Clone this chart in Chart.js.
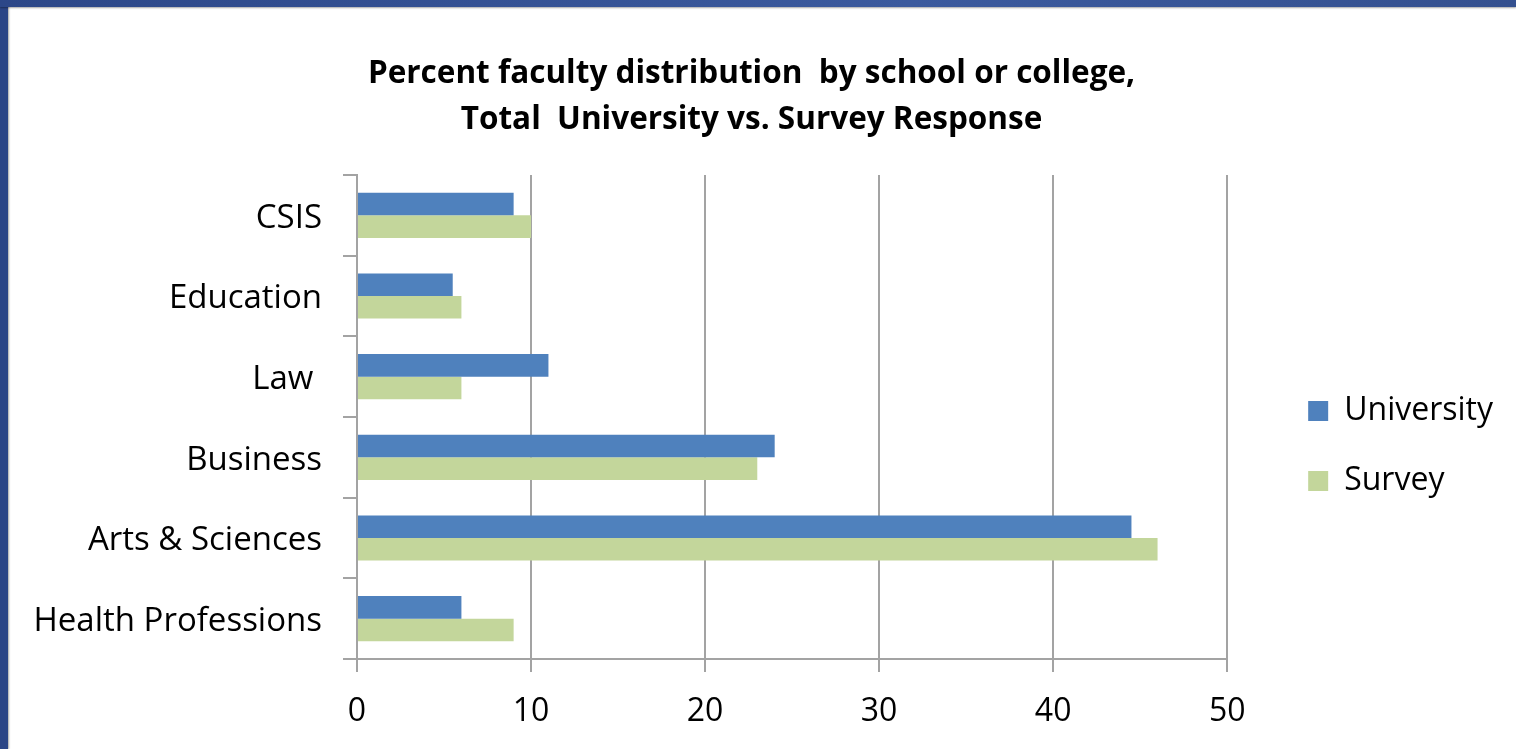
<!DOCTYPE html>
<html>
<head>
<meta charset="utf-8">
<script src="https://cdn.jsdelivr.net/npm/chart.js@4.4.0/dist/chart.umd.min.js"></script>
<style>
  html, body { margin: 0; padding: 0; background: #fff; }
  #wrap { position: relative; width: 1516px; height: 749px; overflow: hidden; }
  #frameLeft { position: absolute; left: 0; top: 0; width: 8px; height: 749px;
    background: #2b4586; box-shadow: 1px 0 2px rgba(0,0,0,0.35); }
  #frameTop { position: absolute; left: 0; top: 0; width: 1516px; height: 7px;
    background: linear-gradient(to right, #2c4788, #3b5a9e 60%, #34508f);
    box-shadow: 0 1px 2px rgba(0,0,0,0.35); }
</style>
</head>
<body>
<div id="wrap">
  <canvas id="chart"></canvas>
  <div id="frameLeft"></div>
  <div id="frameTop"></div>
</div>
<script>
var categories = ['CSIS', 'Education', 'Law ', 'Business', 'Arts & Sciences', 'Health Professions']
var university = [9, 5.5, 11, 24, 44.5, 6]
var survey     = [10, 6, 6, 23, 46, 9]
var xTicks     = [0, 10, 20, 30, 40, 50]
var titleLines = ['Percent faculty distribution  by school or college,', 'Total  University vs. Survey Response']

var font = 'Open Sans'
var gray = '#a3a3a3'

var chart = new Chart(document.getElementById('chart'), {
	type: 'bar',
	data: {
		labels: categories,
		datasets: [
			{ label: 'University', data: university, backgroundColor: '#4f81bd' },
			{ label: 'Survey', data: survey, backgroundColor: '#c3d69b' }
		]
	},
	options: {
		indexAxis: 'y',
		responsive: true,
		maintainAspectRatio: false,
		animation: false,
		devicePixelRatio: 1,
		barPercentage: 1,
		categoryPercentage: 0.56,
		layout: { padding: { left: 0, right: 13, top: 0, bottom: 0 } },
		plugins: {
			title: {
				display: true,
				text: titleLines,
				color: '#000',
				font: { family: font, size: 31.5, weight: 'bold', lineHeight: 46 / 31.5 },
				padding: { top: 51, bottom: 32 }
			},
			legend: {
				position: 'right',
				fullSize: false,
				// empty title only pushes the items down a little
				title: { display: true, text: '', font: { family: font, size: 20, lineHeight: 1 }, padding: 19 },
				labels: {
					color: '#000',
					font: { family: font, size: 32 },
					boxWidth: 20,
					boxHeight: 20,
					padding: 38
				}
			},
			tooltip: { enabled: false }
		},
		scales: {
			x: {
				min: 0,
				max: 50,
				afterBuildTicks: function (s) { s.ticks = xTicks.map(function (v) { return { value: v } }) },
				afterFit: function (s) { s.height = 90 },
				grid: { color: gray, lineWidth: 2, tickLength: 13, drawTicks: true },
				border: { color: gray, width: 2 },
				ticks: { color: '#000', font: { family: font, size: 32 }, padding: 21 }
			},
			y: {
				afterFit: function (s) { s.width = 357 },
				grid: { color: gray, lineWidth: 2, drawOnChartArea: false, tickLength: 14 },
				border: { color: gray, width: 2 },
				ticks: { color: '#000', font: { family: font, size: 33 }, padding: 21, labelOffset: 3, autoSkip: false }
			},
			gap: {
				type: 'linear',
				position: 'right',
				display: true,
				grid: { display: false },
				border: { display: false },
				ticks: { display: false },
				afterFit: function (s) { s.width = 43 }
			}
		}
	}
})
</script>
</body>
</html>
